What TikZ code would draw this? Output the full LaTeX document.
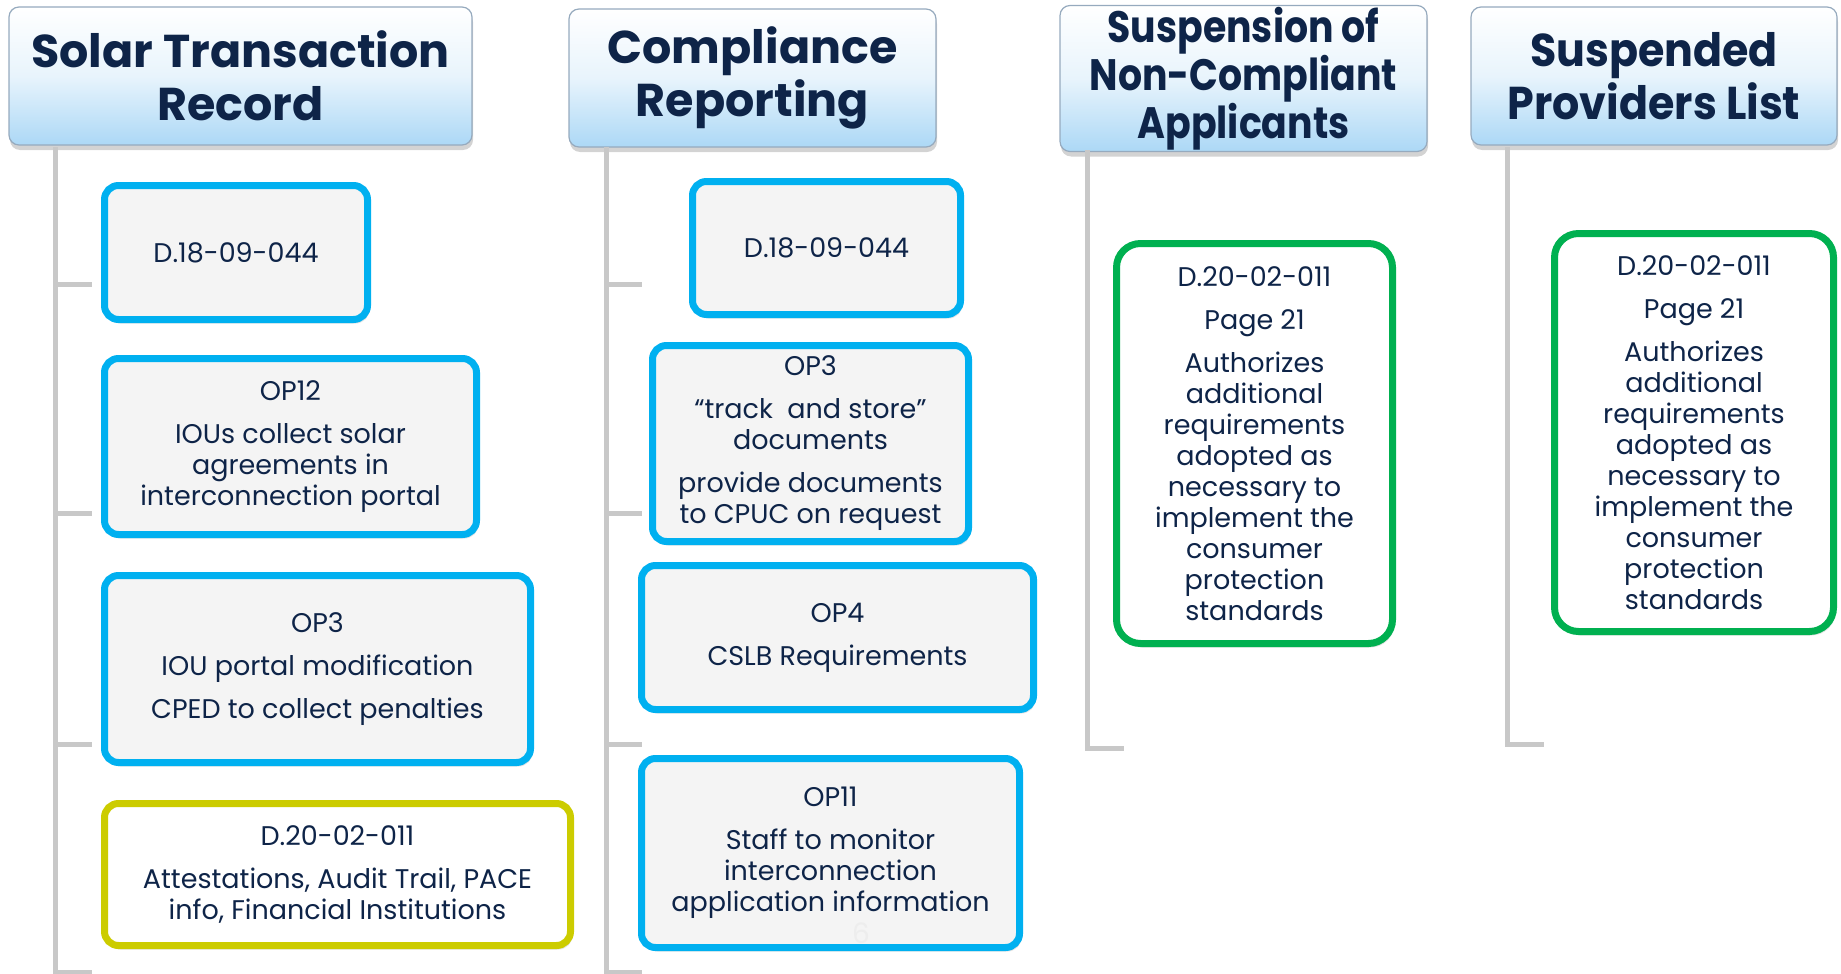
\documentclass[tikz,border=0pt]{standalone}
\usepackage{fontspec}
\setmainfont{Poppins}
\newfontfamily\narrowFont[FakeStretch=0.86]{Poppins}
\newfontfamily\listFont[FakeStretch=0.93]{Poppins}
\usetikzlibrary{shadows}
\definecolor{navyText}{RGB}{14,36,72}
\definecolor{cyanEdge}{RGB}{0,176,240}
\definecolor{greenEdge}{RGB}{0,176,80}
\definecolor{oliveEdge}{RGB}{204,204,0}
\definecolor{treeGrey}{RGB}{200,200,200}
\definecolor{boxFill}{RGB}{244,244,244}
\definecolor{headBlue}{RGB}{172,216,246}
\definecolor{headMid}{RGB}{232,244,252}
\definecolor{headEdge}{RGB}{150,170,190}
\newcommand{\paraGap}{\\[6pt]}

\begin{document}
\begin{tikzpicture}[%%
  x=0.5pt,y=-0.5pt,%%
  headStyle/.style={draw=headEdge,line width=0.6pt,rounded corners=5pt,%%
    shading=axis,top color=white,bottom color=headBlue,middle color=headMid,%%
    drop shadow={shadow xshift=0.5pt,shadow yshift=-2.5pt,opacity=0.35},%%
    text=navyText,align=center,inner sep=0pt,%%
    font=\fontsize{23}{26.5}\selectfont\bfseries},%%
  narrowHead/.style={headStyle,font=\narrowFont\fontsize{22}{24}\selectfont\bfseries},%%
  boxStyle/.style={line width=3.5pt,rounded corners=7pt,align=center,inner sep=0pt,%%
    text=navyText,font=\fontsize{13.5}{15.5}\selectfont,%%
    drop shadow={shadow xshift=1pt,shadow yshift=-2pt,opacity=0.22}},%%
  blueBox/.style={boxStyle,draw=cyanEdge,fill=boxFill},%%
  oliveBox/.style={boxStyle,draw=oliveEdge,fill=white},%%
  greenBox/.style={boxStyle,draw=greenEdge,fill=white,rounded corners=12pt},%%
  treeStyle/.style={draw=treeGrey,line width=2.5pt}%%
]
\useasboundingbox (0,0) rectangle (1841,974);
%%
%% Column headers.
\node[headStyle,minimum width=231.5pt,minimum height=69pt] (hdrSolar) at (240.5,76)
  {Solar Transaction\\Record};
\node[headStyle,minimum width=183.5pt,minimum height=69pt] (hdrCompliance) at (752.5,78)
  {Compliance\\Reporting};
\node[narrowHead,minimum width=183.5pt,minimum height=73pt] (hdrSuspension) at (1243.5,78.5)
  {Suspension of\\Non-Compliant\\Applicants};
\node[headStyle,minimum width=183pt,minimum height=69pt,%%
  font=\listFont\fontsize{23}{26.5}\selectfont\bfseries] (hdrSuspended) at (1654,76)
  {Suspended\\Providers List};
%%
%% Tree lines down each column.
\coordinate (solarFoot) at (92,972);
\coordinate (complianceFoot) at (642,972);
\coordinate (suspensionFoot) at (1124,748);
\coordinate (suspendedFoot) at (1544,744);
\draw[treeStyle] (55,147) |- (solarFoot);
\draw[treeStyle] (606,147) |- (complianceFoot);
\draw[treeStyle] (1087,150) |- (suspensionFoot);
\draw[treeStyle] (1507,147) |- (suspendedFoot);
\foreach \yy in {284,513,744}{%%
  \draw[treeStyle] (55,\yy) -- ++(37,0);
  \draw[treeStyle] (606,\yy) -- ++(36,0);
}
%%
%% Solar Transaction Record.
\node[blueBox,minimum width=131.5pt,minimum height=67pt] (solarDec) at (236,252.5)
  {D.18-09-044};
\node[blueBox,minimum width=186pt,minimum height=88pt] (solarOpTwelve) at (290.5,446.5)
  {OP12\paraGap IOUs collect solar\\agreements in\\interconnection portal};
\node[blueBox,minimum width=213pt,minimum height=93.5pt] (solarOpThree) at (317.5,669)
  {OP3\paraGap IOU portal modification\paraGap CPED to collect penalties};
\node[oliveBox,minimum width=233pt,minimum height=71pt] (solarAttest) at (337.5,874.5)
  {D.20-02-011\paraGap Attestations, Audit Trail, PACE\\info, Financial Institutions};
%%
%% Compliance Reporting.
\node[blueBox,minimum width=134pt,minimum height=66.5pt] (compDec) at (826.5,248)
  {D.18-09-044};
\node[blueBox,minimum width=158pt,minimum height=98pt] (compOpThree) at (810.5,443.5)
  {OP3\paraGap “track\ \ and store”\\documents\paraGap provide documents\\to CPUC on request};
\node[blueBox,minimum width=196pt,minimum height=72pt] (compOpFour) at (837.5,637.5)
  {OP4\paraGap CSLB Requirements};
\node[blueBox,minimum width=189pt,minimum height=94.5pt] (compOpEleven) at (830.5,853)
  {OP11\paraGap Staff to monitor\\interconnection\\application information};
\node[text=black!7,font=\fontsize{14}{16}\selectfont] (slideNum) at (861,933) {6};
%%
%% Suspension of Non-Compliant Applicants.
\node[greenBox,minimum width=138pt,minimum height=200pt] (suspAuth) at (1254.5,443.5)
  {D.20-02-011\paraGap Page 21\paraGap Authorizes\\additional\\requirements\\adopted as\\necessary to\\implement the\\consumer\\protection\\standards};
%%
%% Suspended Providers List.
\node[greenBox,minimum width=139.5pt,minimum height=199pt] (listAuth) at (1694,432.5)
  {D.20-02-011\paraGap Page 21\paraGap Authorizes\\additional\\requirements\\adopted as\\necessary to\\implement the\\consumer\\protection\\standards};
\end{tikzpicture}
\end{document}
